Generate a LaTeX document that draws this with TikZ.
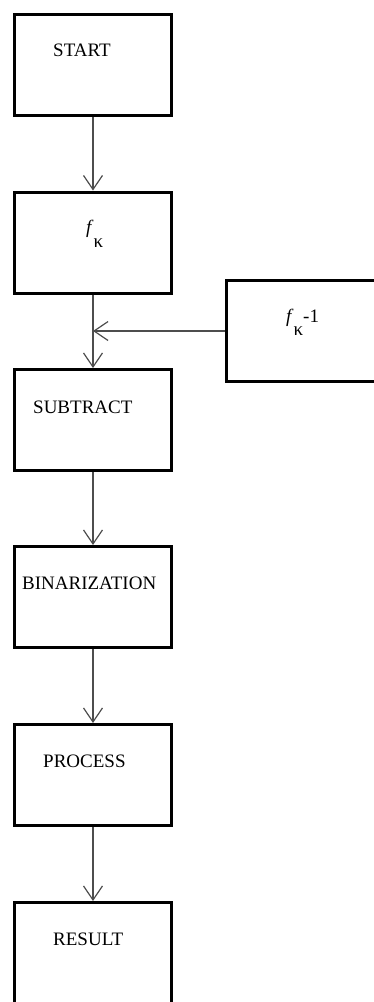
\documentclass[tikz,border=0pt]{standalone}
\usepackage{fontspec}
\setmainfont{Liberation Serif}
\usepackage{xcolor}
\usepackage{tikz}
\usetikzlibrary{arrows.meta}
\definecolor{linegray}{HTML}{4D4D4D}
\tikzset{
  ar/.style={-{Straight Barb[length=14pt,width=19pt]},line width=1.2pt,linegray},
  box/.style={draw=black,line width=3pt,minimum width=157pt,minimum height=101pt,inner sep=0pt},
  lbl/.style={anchor=base west,inner sep=0pt,font=\fontsize{19}{22}\selectfont}
}

\begin{document}
\begin{tikzpicture}[x=1pt,y=-1pt]
\useasboundingbox (0,0) rectangle (374,1002);
\clip (0,0) rectangle (374,1002);
\def\X{93}
\node[box] (start) at (\X,65) {};
\node[box] (fk) at (\X,242.5) {};
\node[box] (sub) at (\X,420) {};
\node[box] (bin) at (\X,597) {};
\node[box] (proc) at (\X,775) {};
\node[box] (res) at (\X,953) {};
\node[box] (fkm) at (305,331) {};
\node[lbl] (startlbl) at ([xshift=40pt,yshift=-43pt]start.north west) {START};
\node[lbl] (fklbl) at ([xshift=73pt,yshift=-43pt]fk.north west) {\textit{f}\raisebox{-14pt}{κ}};
\node[lbl] (fkmlbl) at ([xshift=61pt,yshift=-43pt]fkm.north west) {\textit{f}\raisebox{-13pt}{κ}-1};
\node[lbl] (sublbl) at ([xshift=20pt,yshift=-45pt]sub.north west) {SUBTRACT};
\node[lbl] (binlbl) at ([xshift=9pt,yshift=-44pt]bin.north west) {BINARIZATION};
\node[lbl] (proclbl) at ([xshift=30pt,yshift=-44pt]proc.north west) {PROCESS};
\node[lbl] (reslbl) at ([xshift=40pt,yshift=-44pt]res.north west) {RESULT};
\draw[ar] (start) -- (fk);
\draw[ar] (fk) -- (sub);
\draw[ar] (sub) -- (bin);
\draw[ar] (bin) -- (proc);
\draw[ar] (proc) -- (res);
\coordinate (join) at (fk.south |- fkm.west);
\draw[ar] (fkm) -- (join);
\end{tikzpicture}
\end{document}
